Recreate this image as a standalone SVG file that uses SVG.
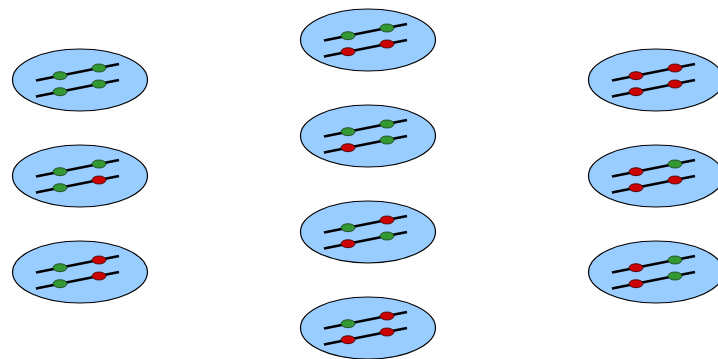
<svg xmlns="http://www.w3.org/2000/svg" xmlns:xlink="http://www.w3.org/1999/xlink" width="718" height="359" viewBox="0 0 718 359">
<style>
.cell{fill:#99ccff;stroke:#000;stroke-width:1.2}
.ln{stroke:#000;stroke-width:2.5;fill:none;stroke-linecap:butt}
.g{fill:#339933;stroke:#1a3a1a;stroke-width:0.8}
.r{fill:#cc0000;stroke:#3a0000;stroke-width:0.8}
</style>
<defs>
<g id="base">
<ellipse class="cell" cx="0" cy="0" rx="67.5" ry="31"/>
<line class="ln" x1="-44" y1="0.5" x2="39" y2="-16"/>
<line class="ln" x1="-44" y1="16.5" x2="39" y2="0"/>
</g>
</defs>
<g id="connectors"/>
<g id="L1" transform="translate(80,80)"><use xlink:href="#base"/><ellipse class="g" cx="-20" cy="-4.3" rx="7" ry="4"/><ellipse class="g" cx="19" cy="-12" rx="7" ry="4"/><ellipse class="g" cx="-20" cy="11.7" rx="7" ry="4"/><ellipse class="g" cx="19" cy="4" rx="7" ry="4"/></g>
<g id="L2" transform="translate(80,176)"><use xlink:href="#base"/><ellipse class="g" cx="-20" cy="-4.3" rx="7" ry="4"/><ellipse class="g" cx="19" cy="-12" rx="7" ry="4"/><ellipse class="g" cx="-20" cy="11.7" rx="7" ry="4"/><ellipse class="r" cx="19" cy="4" rx="7" ry="4"/></g>
<g id="L3" transform="translate(80,272)"><use xlink:href="#base"/><ellipse class="g" cx="-20" cy="-4.3" rx="7" ry="4"/><ellipse class="r" cx="19" cy="-12" rx="7" ry="4"/><ellipse class="g" cx="-20" cy="11.7" rx="7" ry="4"/><ellipse class="r" cx="19" cy="4" rx="7" ry="4"/></g>
<g id="M1" transform="translate(368,40)"><use xlink:href="#base"/><ellipse class="g" cx="-20" cy="-4.3" rx="7" ry="4"/><ellipse class="g" cx="19" cy="-12" rx="7" ry="4"/><ellipse class="r" cx="-20" cy="11.7" rx="7" ry="4"/><ellipse class="r" cx="19" cy="4" rx="7" ry="4"/></g>
<g id="M2" transform="translate(368,136)"><use xlink:href="#base"/><ellipse class="g" cx="-20" cy="-4.3" rx="7" ry="4"/><ellipse class="g" cx="19" cy="-12" rx="7" ry="4"/><ellipse class="r" cx="-20" cy="11.7" rx="7" ry="4"/><ellipse class="g" cx="19" cy="4" rx="7" ry="4"/></g>
<g id="M3" transform="translate(368,232)"><use xlink:href="#base"/><ellipse class="g" cx="-20" cy="-4.3" rx="7" ry="4"/><ellipse class="r" cx="19" cy="-12" rx="7" ry="4"/><ellipse class="r" cx="-20" cy="11.7" rx="7" ry="4"/><ellipse class="g" cx="19" cy="4" rx="7" ry="4"/></g>
<g id="M4" transform="translate(368,328)"><use xlink:href="#base"/><ellipse class="g" cx="-20" cy="-4.3" rx="7" ry="4"/><ellipse class="r" cx="19" cy="-12" rx="7" ry="4"/><ellipse class="r" cx="-20" cy="11.7" rx="7" ry="4"/><ellipse class="r" cx="19" cy="4" rx="7" ry="4"/></g>
<g id="R1" transform="translate(656,80)"><use xlink:href="#base"/><ellipse class="r" cx="-20" cy="-4.3" rx="7" ry="4"/><ellipse class="r" cx="19" cy="-12" rx="7" ry="4"/><ellipse class="r" cx="-20" cy="11.7" rx="7" ry="4"/><ellipse class="r" cx="19" cy="4" rx="7" ry="4"/></g>
<g id="R2" transform="translate(656,176)"><use xlink:href="#base"/><ellipse class="r" cx="-20" cy="-4.3" rx="7" ry="4"/><ellipse class="g" cx="19" cy="-12" rx="7" ry="4"/><ellipse class="r" cx="-20" cy="11.7" rx="7" ry="4"/><ellipse class="r" cx="19" cy="4" rx="7" ry="4"/></g>
<g id="R3" transform="translate(656,272)"><use xlink:href="#base"/><ellipse class="r" cx="-20" cy="-4.3" rx="7" ry="4"/><ellipse class="g" cx="19" cy="-12" rx="7" ry="4"/><ellipse class="r" cx="-20" cy="11.7" rx="7" ry="4"/><ellipse class="g" cx="19" cy="4" rx="7" ry="4"/></g>
</svg>
